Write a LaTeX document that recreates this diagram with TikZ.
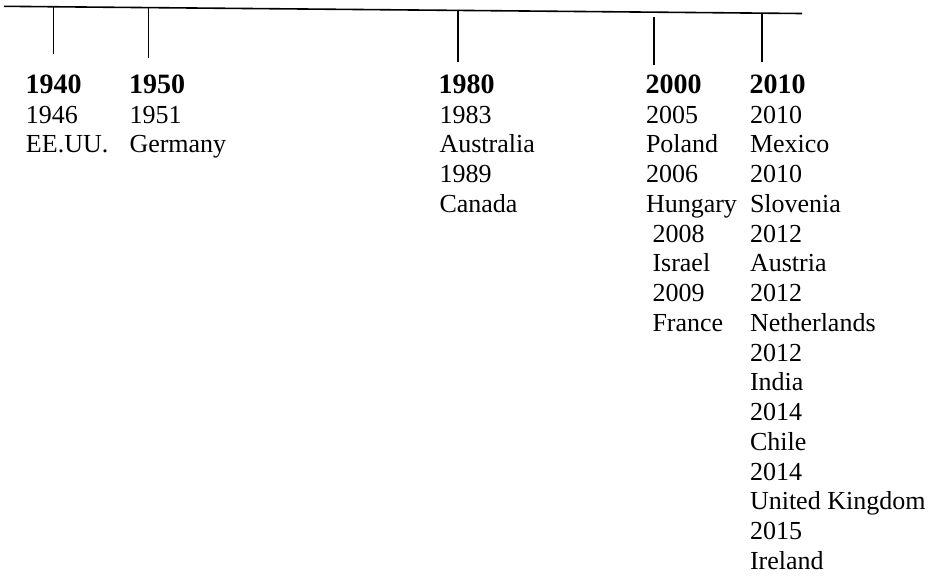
\documentclass[tikz,border=0pt]{standalone}
\usepackage{fontspec}
\setmainfont{Liberation Serif}
\begin{document}
\begin{tikzpicture}[x=0.75pt,y=-0.75pt,
  lbl/.style={inner sep=0pt,outer sep=0pt,anchor=base west,font=\fontsize{19.5}{22}\selectfont},
  head/.style={lbl,font=\fontsize{21}{24}\selectfont\bfseries},
  axis/.style={line width=1.2pt,black},
  tick/.style={line width=1.2pt,black}]
\useasboundingbox (0,0) rectangle (935,576);
\def\pitch{29.75}
\def\base{93.3}
% axis
\coordinate (axL) at (4,6.3);
\coordinate (axR) at (802,13.5);
\draw[axis] (axL) -- (axR);
% ticks
\coordinate (t1a) at (53.3,6.8);   \coordinate (t1b) at (53.3,54);
\coordinate (t2a) at (148.3,7.7);  \coordinate (t2b) at (148.3,58.3);
\coordinate (t3a) at (457.7,10.5); \coordinate (t3b) at (457.7,61.7);
\coordinate (t4a) at (654,16.7);   \coordinate (t4b) at (654,65);
\coordinate (t5a) at (762,12.8);   \coordinate (t5b) at (762,61.7);
\foreach \k in {1,...,5} \draw[tick] (t\k a) -- (t\k b);
% column 1
\node[head] (h1) at (25.5,\base) {1940};
\foreach \t [count=\i] in {1946,EE.UU.}
  \node[lbl] (c1-\i) at (26,{\base+\pitch*\i}) {\t};
% column 2
\node[head] (h2) at (129,\base) {1950};
\foreach \t [count=\i] in {1951,Germany}
  \node[lbl] (c2-\i) at (129.5,{\base+\pitch*\i}) {\t};
% column 3
\node[head] (h3) at (438.5,\base) {1980};
\foreach \t [count=\i] in {1983,Australia,1989,Canada}
  \node[lbl] (c3-\i) at (439.5,{\base+\pitch*\i}) {\t};
% column 4
\node[head] (h4) at (645.5,\base) {2000};
\foreach \t [count=\i] in {2005,Poland,2006,Hungary}
  \node[lbl] (c4-\i) at (646,{\base+\pitch*\i}) {\t};
\foreach \t [count=\i from 5] in {2008,Israel,2009,France}
  \node[lbl] (c4-\i) at (652.5,{\base+\pitch*\i}) {\t};
% column 5
\node[head] (h5) at (749.5,\base) {2010};
\foreach \t [count=\i] in {2010,Mexico,2010,Slovenia,2012,Austria,2012,Netherlands,2012,India,2014,Chile,2014,United Kingdom,2015,Ireland}
  \node[lbl] (c5-\i) at (750,{\base+\pitch*\i}) {\t};
\end{tikzpicture}
\end{document}
